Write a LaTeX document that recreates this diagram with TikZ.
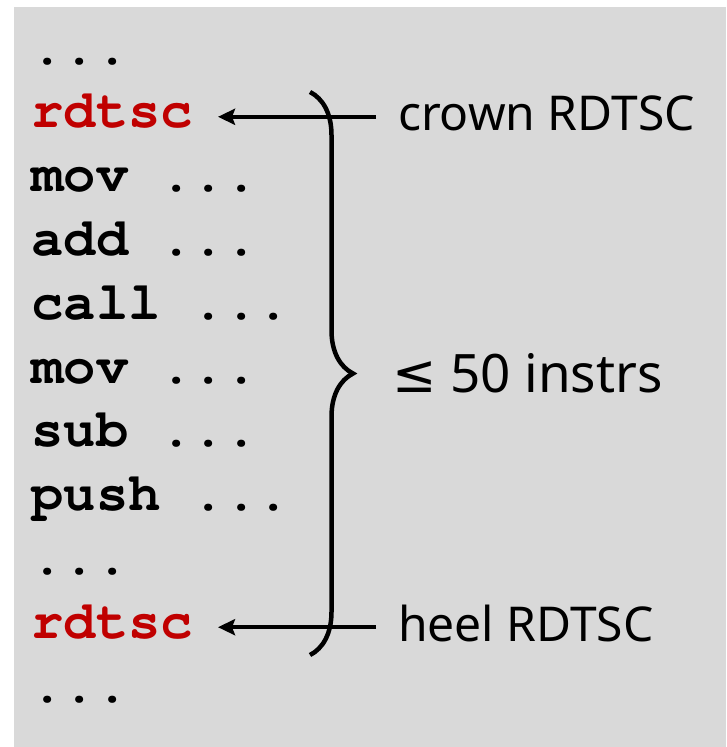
\documentclass[tikz,border=0pt]{standalone}
\usepackage{fontspec}
\setmainfont{Noto Sans}
\newfontfamily\symfont{DejaVu Sans}
\usetikzlibrary{arrows.meta, positioning, decorations.pathreplacing}
\definecolor{cred}{HTML}{C00000}
\definecolor{cbg}{HTML}{D9D9D9}
\newcommand\insdots{...}
\newcommand\courierbold{\fontencoding{OT1}\fontfamily{pcr}\fontseries{b}\selectfont}
\tikzset{
  every picture/.style={line width=4.5pt},
  code/.style={font=\fontsize{53.8}{60}\courierbold, anchor=base west, inner sep=0pt, outer sep=0pt, text height=22pt, text depth=0pt},
  tag/.style={font=\fontsize{48}{60}\selectfont, inner sep=0pt, outer sep=0pt, text height=28pt, text depth=0pt},
  arrow/.style={-{Stealth[length=17pt, width=16pt, inset=3pt]}, line width=4.5pt, shorten <=22pt, shorten >=25pt},
  brace/.style={decorate, decoration={brace, amplitude=43pt}, line width=4.5pt},
}
\begin{document}
\begin{tikzpicture}[x=1pt, y=-1pt]
  \useasboundingbox (0,0) rectangle (726,747);
  \fill[cbg] (14,7) rectangle (726,747);
  % listing
  \foreach \i/\op/\col in {0/\insdots/black, 1/rdtsc/cred, 2/mov \insdots/black, 3/add \insdots/black,
      4/call \insdots/black, 5/mov \insdots/black, 6/sub \insdots/black, 7/push \insdots/black,
      8/\insdots/black, 9/rdtsc/cred, 10/\insdots/black}
    \node[code, text=\col] (l\i) at (31.6,64+63.8*\i) {\op};
  % the two timestamps
  \node[tag, right=205pt of l1] (crown) {crown RDTSC};
  \node[tag, right=205pt of l9] (heel) {heel RDTSC};
  \draw[arrow] (crown) -- (l1);
  \draw[arrow] (heel) -- (l9);
  % span between them
  \coordinate (btop) at (310,92);
  \coordinate (bbot) at (310,655);
  \draw[brace] (btop) -- node[tag, font=\fontsize{53}{60}\selectfont, right=82pt, yshift=-4.5pt] (span) {{\symfont ≤} 50 instrs} (bbot);
\end{tikzpicture}
\end{document}
